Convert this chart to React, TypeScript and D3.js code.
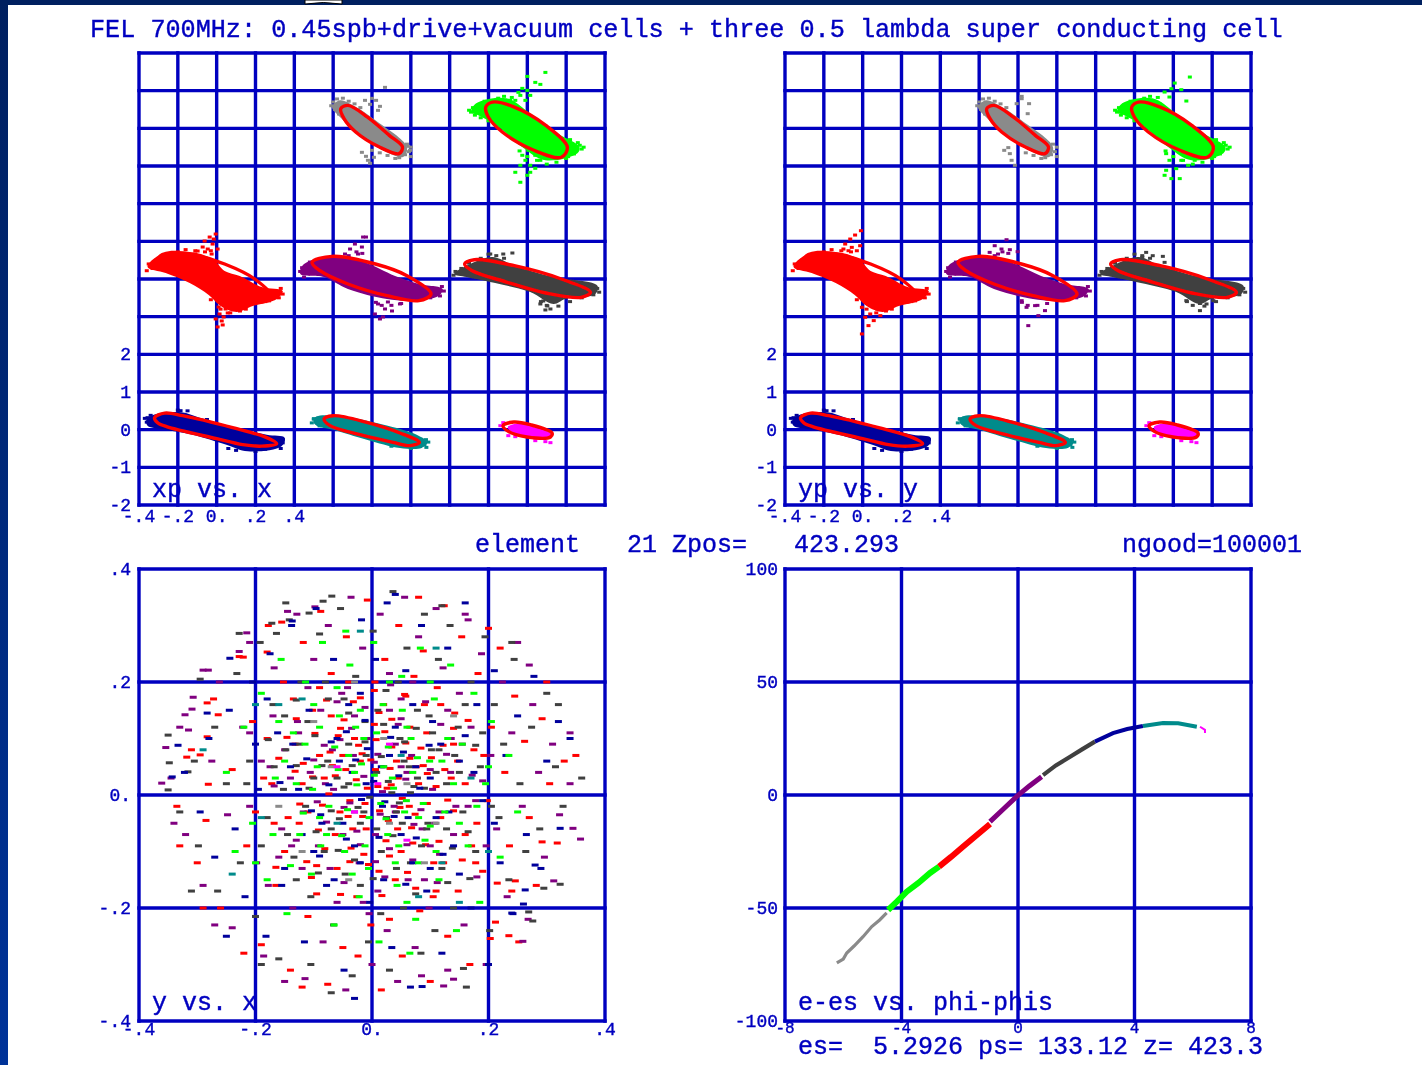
import * as d3 from 'd3'

// x/xp slices, local coordinates inside each sub-panel (x: +-.4, xp: +-2)
const navyCore = [[-.362,.265],[-.32,.4],[-.182,.46],[-.088,.318],[.082,.08],[.258,-.133],[.35,-.212],[.334,-.443],[.16,-.576],[.05,-.398],[-.124,-.133],[-.26,0],[-.356,.106]]
const navyRing = [[-.32,.318],[-.268,.438],[-.175,.371],[.082,.053],[.258,-.212],[.309,-.371],[.232,-.438],[.134,-.398],[0,-.239],[-.258,.08],[-.304,.186]]
const navyTail = [[-.186,.504],[-.356,.318],[.273,-.451],[.32,-.318],[.34,-.265],[-.36,.2],[-.37,.3],[-.34,.38],[-.3,.14],[-.2,.52],[-.15,.5],[.3,-.42],[.33,-.5],[.34,-.35],[.2,-.58],[.25,-.52],[.1,-.55],[.06,-.5],[-.05,.27]]

const tealCore = [[-.302,.22],[-.285,.353],[-.13,.337],[.024,.177],[.23,-.133],[.285,-.337],[.256,-.485],[.144,-.485],[-.027,-.265],[-.2,0],[-.285,.106]]
const tealRing = [[-.247,.284],[-.2,.371],[-.027,.194],[.144,-.088],[.244,-.337],[.196,-.424],[.108,-.337],[-.062,-.133],[-.216,.106]]
const tealTail = [[.278,-.265],[-.278,.239],[-.299,.292],[-.3,.28],[-.31,.18],[-.27,.1],[.27,-.4],[.28,-.47],[.29,-.33],[.2,-.5],[.1,-.44]]

const magentaCore = [[-.1,.08],[-.05,.16],[.03,.08],[.12,-.1],[.12,-.2],[0,-.18],[-.09,-.03]]
const magentaRing = [[-.125,.106],[-.07,.204],[.015,.133],[.127,-.088],[.119,-.194],[-.002,-.194],[-.098,-.045]]
const magentaTail = [[-.139,.106],[-.124,.186],[-.098,-.159],[-.062,-.186],[.093,-.318],[.119,-.345],[.041,-.292]]

const redCore = [[-.356,.318],[-.294,.637],[-.139,.716],[-.021,.53],[.041,.212],[.119,.08],[.232,-.212],[.34,-.318],[.31,-.53],[.186,-.716],[.103,-.875],[.02,-.716],[-.041,-.424],[-.139,-.106],[-.263,.159]]
const redRing = [[-.294,.584],[-.232,.703],[-.113,.637],[.041,.398],[.196,0],[.284,-.477],[.232,-.61],[.093,-.531],[-.062,-.212],[-.216,.265]]
const redTail = [[-.005,1.194],[-.036,1.114],[-.062,1.008],[-.021,.928],[-.072,.849],[-.046,.796],[-.098,.743],[-.015,1.061],[-.026,.663],[-.113,.663],[.005,.796],[.005,-1.273],[.026,-1.114],[.036,-1.008],[.015,-.928],[.057,-.902],[.077,-.796],[-.005,-1.061],[.046,-.796],[.031,-1.22],[.01,-.743],[-.36,.22],[-.35,.4],[-.33,.28],[-.31,.5],[.33,-.25],[.34,-.4],[.32,-.5],[.27,-.58],[.25,-.6],[.12,-.85],[.15,-.8],[.07,-.9],[.02,-.8],[-.03,-.55],[-.2,.72],[-.16,.78],[-.11,.75],[-.06,.72],[-.03,.75]]

const purpleCore = [[-.369,.133],[-.35,.398],[-.186,.584],[-.043,.451],[.119,.08],[.242,-.133],[.364,-.265],[.344,-.443],[.201,-.576],[.077,-.531],[-.124,-.265],[-.247,.053]]
const purpleRing = [[-.309,.443],[-.206,.602],[.018,.398],[.18,.088],[.304,-.398],[.242,-.576],[.077,-.443],[-.124,-.133],[-.268,.22]]
const purpleTail = [[-.046,1.114],[-.088,.928],[-.113,.796],[-.052,.849],[-.072,.663],[-.139,.663],[-.031,1.114],[.041,-1.061],[.067,-.796],[.031,-.663],[.103,-.849],[.144,-.663],[.015,-.928],[.082,-.61],[.057,-1.008],[-.37,.2],[-.36,.3],[-.35,.05],[-.32,.45],[-.12,.62],[-.08,.72],[-.05,.68],[.36,-.2],[.37,-.32],[.35,-.45],[.3,-.5],[.15,-.65],[.1,-.7],[.05,-.7],[.02,-.62]]

const darkCore = [[-.377,.133],[-.294,.398],[-.18,.584],[-.067,.353],[.134,.053],[.361,-.177],[.35,-.398],[.196,-.531],[.134,-.663],[.015,-.345],[-.191,-.08],[-.314,.053]]
const darkRing = [[-.323,.398],[-.273,.512],[-.067,.353],[.175,0],[.325,-.353],[.278,-.486],[.095,-.371],[-.108,-.08],[-.284,.22]]
const darkTail = [[-.124,.663],[-.077,.69],[-.191,.663],[.082,-.584],[.103,-.716],[.119,-.796],[.093,-.822],[.067,-.663],[-.38,.1],[-.37,.2],[-.34,.28],[-.3,.42],[-.24,.55],[-.2,.66],[-.16,.62],[-.12,.55],[.36,-.25],[.37,-.35],[.34,-.42],[.28,-.5],[.22,-.6],[.16,-.72],[.1,-.7],[.07,-.6]]

const grayCore = [[-.206,.565],[-.165,.743],[-.082,.565],[.018,.212],[.18,-.496],[.16,-.761],[.038,-.531],[-.084,-.08],[-.165,.3]]
const grayRing = [[-.161,.522],[-.124,.61],[-.023,.3],[.089,-.186],[.157,-.496],[.139,-.671],[.038,-.496],[-.084,-.098],[-.144,.257]]
const grayTail = [[.067,1.088],[0,.796],[.021,.743],[-.01,.637],[-.036,.743],[.041,.584],[.031,.477],[-.052,-.637],[-.031,-.743],[-.021,-.849],[0,-.584],[-.01,-.928],[.01,-.769],[.196,-.584],[.186,-.478],[-.21,.6],[-.2,.7],[-.18,.78],[-.15,.8],[-.12,.72],[-.09,.65],[-.06,.55],[-.19,.5],[-.17,.38],[.14,-.78],[.17,-.7],[.19,-.62],[.2,-.75],[.12,-.8],[.08,-.72],[.04,-.65],[.18,-.42],[.2,-.5]]

const greenCore = [[-.289,.432],[-.263,.663],[-.108,.796],[.013,.398],[.155,-.133],[.268,-.496],[.258,-.663],[.093,-.849],[-.027,-.496],[-.149,.034],[-.253,.345]]
const greenRing = [[-.214,.565],[-.18,.698],[-.067,.565],[.095,.08],[.206,-.496],[.175,-.769],[.034,-.583],[-.129,-.098],[-.201,.3]]
const greenTail = [[.093,1.485],[0,1.379],[.041,1.22],[.067,1.167],[0,1.008],[-.036,.875],[-.062,.743],[-.026,1.061],[.015,.875],[-.01,.743],[-.046,.955],[-.088,.743],[-.062,-1.167],[-.036,-1.432],[0,-1.247],[-.01,-.849],[.015,-.981],[.041,-1.061],[.067,-.849],[.015,-1.167],[-.026,-.716],[.093,-.796],[.005,-.584],[.041,-.716],[-.036,-.981],[-.29,.43],[-.28,.55],[-.27,.35],[-.25,.62],[-.24,.28],[-.22,.72],[-.3,.48],[-.26,.48],[-.2,.2],[-.15,.8],[-.12,.85],[-.08,.82],[.27,-.45],[.28,-.55],[.26,-.38],[.24,-.68],[.21,-.75],[.18,-.32],[.15,-.9],[.1,-.95],[.05,-.85],[.22,-.3],[.29,-.5],[.2,-.8],[-.04,-.6],[0,-.75]]

// y/yp tails are close to the x/xp ones but not the same
const grayTailY = [[.019,.849],[.057,.655],[.05,.389],[-.05,-.512],[-.042,-.672],[-.033,-.849],[-.016,-.981],[-.071,-.584],[.019,.787],[-.007,.655],[-.21,.6],[-.2,.7],[-.18,.78],[-.15,.8],[-.12,.72],[-.09,.65],[-.06,.55],[-.19,.5],[-.17,.38],[.14,-.78],[.17,-.7],[.19,-.62],[.2,-.75],[.12,-.8],[.08,-.72],[.04,-.65],[.18,-.42],[.2,-.5]]
const greenTailY = [[.085,1.362],[.007,1.202],[-.045,.963],[.041,1.026],[.067,.725],[-.02,.831],[-.072,.655],[-.01,1.052],[-.01,-1.335],[-.045,-1.247],[.033,-1.335],[-.037,-1.114],[.076,-.981],[.015,-1.07],[-.02,-.849],[.041,-.849],[-.037,-.672],[.11,-.849],[-.29,.43],[-.28,.55],[-.27,.35],[-.25,.62],[-.24,.28],[-.22,.72],[-.3,.48],[-.26,.48],[-.2,.2],[-.15,.8],[-.12,.85],[-.08,.82],[.27,-.45],[.28,-.55],[.26,-.38],[.24,-.68],[.21,-.75],[.18,-.32],[.15,-.9],[.1,-.95],[.05,-.85],[.22,-.3],[.29,-.5],[.2,-.8],[-.04,-.6],[0,-.75]]
const redTailY = [[-.009,1.282],[-.039,1.167],[-.064,1.061],[-.09,.928],[-.056,.84],[-.013,.884],[-.099,.796],[-.073,.751],[-.004,-1.459],[.03,-1.238],[.057,-1.105],[.013,-1.017],[.091,-.972],[.039,-.928],[-.004,-.752],[.074,-.796],[.108,-.752],[-.36,.22],[-.35,.4],[-.33,.28],[-.31,.5],[.33,-.25],[.34,-.4],[.32,-.5],[.27,-.58],[.25,-.6],[.12,-.85],[.15,-.8],[.07,-.9],[.02,-.8],[-.03,-.55],[-.2,.72],[-.16,.78],[-.11,.75],[-.06,.72],[-.03,.75]]
const purpleTailY = [[-.059,1.043],[-.12,.884],[-.085,.796],[-.146,.707],[-.042,.778],[-.002,.725],[-.103,.663],[.053,-1.238],[.105,-.972],[.044,-.752],[.139,-.84],[.019,-.575],[.088,-.707],[-.37,.2],[-.36,.3],[-.35,.05],[-.32,.45],[-.12,.62],[-.08,.72],[-.05,.68],[.36,-.2],[.37,-.32],[.35,-.45],[.3,-.5],[.15,-.65],[.1,-.7],[.05,-.7],[.02,-.62]]
const darkTailY = [[-.14,.707],[-.16,.575],[-.054,.601],[-.045,.442],[-.106,.619],[.137,-.84],[.171,-.663],[.067,-.575],[.206,-.575],[.137,-.65],[-.38,.1],[-.37,.2],[-.34,.28],[-.3,.42],[-.24,.55],[-.2,.66],[-.16,.62],[-.12,.55],[.36,-.25],[.37,-.35],[.34,-.42],[.28,-.5],[.22,-.6],[.16,-.72],[.1,-.7],[.07,-.6]]

// y vs x, read by eye from the cloud
const redCloud = [[-.31,.08],[-.335,-.02],[-.3,-.12],[-.272,.17],[-.26,-.2],[-.24,.045],[-.285,-.045],[-.228,.245],[-.215,-.09],[-.205,.13],[-.19,-.265],[-.178,.3],[-.172,.02],[-.165,-.16],[-.152,.2],[-.14,-.31],[-.132,.09],[-.125,-.05],[-.118,.27],[-.11,-.215],[-.102,.15],[-.095,-.125],[-.088,.325],[-.082,.03],[-.076,-.335],[-.07,.215],[-.063,-.07],[-.058,.105],[-.05,-.27],[-.044,.28],[-.038,-.01],[-.032,.165],[-.026,-.18],[-.02,.06],[-.014,-.105],[-.008,.345],[-.002,-.23],[.004,.125],[.01,.015],[.016,-.345],[.022,.24],[.028,-.045],[.034,.085],[.04,-.15],[.046,.3],[.052,-.285],[.058,.175],[.064,-.02],[.07,-.085],[.076,.05],[.082,-.205],[.088,.255],[.094,.11],[.1,-.33],[.106,-.12],[.112,.19],[.118,-.04],[.124,.335],[.13,-.25],[.136,.03],[.142,.145],[.148,-.17],[.154,.28],[.16,-.07],[.168,-.3],[.175,.08],[.182,.215],[.19,-.135],[.198,-.01],[.205,.12],[.212,-.225],[.22,.26],[.228,.04],[.236,-.09],[.245,.175],[.252,-.26],[.262,.095],[.27,-.04],[.282,-.16],[.292,.135],[.305,.02],[.318,-.085],[.33,.06],[-.12,.02],[-.09,.07],[-.06,-.13],[-.03,.1],[-.01,-.06],[.02,.16],[.05,-.1],[.08,.02],[.11,-.17],[-.15,-.1],[-.18,.1],[.14,.09],[-.045,.045],[.03,-.22],[-.07,.14],[.065,.12],[-.11,-.03],[.095,-.015],[-.2,-.03],[.18,-.05],[-.024,-.285],[.005,.2],[.045,.03],[-.055,-.03],[.125,.045],[-.135,.17],[.155,-.115],[-.16,.065],[-.095,-.175],[.012,-.135],[.072,.21],
  [-.155,.306],[-.283,.163],[-.264,.142],[-.283,.103],[-.295,.071],[-.318,.067],[-.221,.244],[-.18,.253],[-.281,.019],[.292,-.083],[.24,-.17],[.246,-.152],[.235,-.249],[.215,-.156],[.203,-.254],[-.33,-.09],[-.29,-.2],[-.22,-.28],[-.12,-.34],[.08,.35],[.2,.295],[.3,.2],[.35,.07],
  [-.008,.012],[.013,-.028],[-.027,.027],[.033,.018],[-.041,-.038],[.052,-.006],[-.063,.034],[.074,-.034],[-.085,-.018],[.095,.038],[-.017,.073],[.024,-.081],[-.036,-.094],[.042,.06],[-.072,.076],[.084,.083],[-.098,.109],[.115,-.082],[.007,.098],[-.006,-.123],[.061,-.137],[-.081,-.095],[.102,.066],[-.124,-.016],[.13,-.009],[-.118,.056],[.034,.134],[-.048,.133],[.147,.06],[-.144,-.04],[.16,.02],[-.168,-.05],[.09,.16],[-.104,-.146],[.123,-.12],[-.02,.172],[.017,-.178],[-.054,-.176],[.056,.178],[.171,-.09],[-.186,.03],[.192,.07],[-.13,.135],[.14,.118],[-.04,.2],[.105,-.18],[-.09,.19],[.075,-.165],[.026,.012],[-.012,-.015],[.006,.045],[-.05,.07],[.065,.065],[-.033,-.06],[.044,-.06],
  [-.002,.062],[.031,.047],[-.023,.088],[.058,.092],[-.068,.052],[.088,.052],[-.102,.032],[.11,.015],[-.054,.118],[.022,.112],[-.132,.042],[.14,-.028],[.012,.146],[-.074,.002],[.048,-.022],[-.016,-.038],[.068,-.058],[-.092,-.062],[.092,-.088],[-.038,-.118],[.03,-.108],[-.112,-.118],[.122,.088],[-.146,.102],[.165,.132],[-.078,.168],[.004,.185],[.118,.16],[-.165,-.128],[.178,-.12]]
const purpleCloud = [[-.345,.03],[-.32,-.07],[-.315,.115],[-.29,-.16],[-.275,.06],[-.262,.2],[-.248,-.035],[-.24,-.235],[-.222,.12],[-.21,.27],[-.198,-.12],[-.186,-.285],[-.175,.05],[-.168,.225],[-.155,-.06],[-.145,.325],[-.136,-.2],[-.128,.13],[-.115,-.325],[-.106,.04],[-.1,.24],[-.092,-.09],[-.084,-.26],[-.075,.3],[-.068,.08],[-.06,-.19],[-.052,.18],[-.045,-.345],[-.036,.35],[-.03,-.03],[-.022,-.12],[-.016,.26],[-.008,.1],[0,-.3],[.006,-.07],[.014,.32],[.02,.05],[.026,-.24],[.032,.195],[.038,-.02],[.044,-.33],[.05,.135],[.056,.35],[.062,-.15],[.068,.07],[.074,-.27],[.08,.28],[.086,-.06],[.092,.165],[.098,-.2],[.104,.01],[.11,.33],[.116,-.105],[.122,.225],[.13,-.31],[.136,.1],[.144,-.02],[.15,.18],[.158,-.23],[.165,.31],[.172,.035],[.18,-.145],[.188,.25],[.196,-.3],[.204,.07],[.214,-.06],[.224,.2],[.232,-.18],[.24,.11],[.25,.27],[.258,-.02],[.268,-.22],[.276,.16],[.286,.04],[.296,-.11],[.31,.09],[.322,-.035],[.34,.02],[-.13,-.08],[-.08,.02],[-.03,.14],[.01,-.17],[.06,.04],[.1,-.09],[.13,.15],[-.17,.14],[-.21,-.02],[.17,.12],[-.05,-.07],[.04,.09],[-.11,.19],[.085,-.32],[-.005,-.21],
  [-.354,.084],[-.281,.221],[-.29,.221],[-.228,.254],[-.215,.287],[-.129,.32],[-.098,.333],[-.307,.173],[-.309,.152],[-.321,.142],[-.33,.12],[-.361,.021],[.358,-.078],[.345,-.059],[.312,-.152],[.259,-.259],[.14,-.326],[.123,-.338],[-.34,-.05],[-.27,-.23],[-.15,-.33],[.16,.32],[.27,.23],[.34,.11],
  [.018,.006],[-.014,.033],[.04,-.03],[-.038,-.014],[.058,.028],[-.066,.01],[.072,-.052],[-.078,-.048],[.01,.072],[-.02,-.088],[.03,-.095],[-.055,.098],[.1,.045],[-.1,.062],[.115,-.03],[-.118,-.03],[.045,.125],[-.035,.118],[.07,-.115],[-.072,-.13],[.135,.04],[-.14,.03],[.14,-.07],[-.15,.08],[-.012,.155],[.022,-.145],[.155,.09],[-.16,-.11],[.09,-.15],[-.088,.15],[.178,-.01],[-.19,.06],[.05,.17],[-.06,.165],[.118,.125],[-.12,-.13],[.196,-.09],[-.178,-.16],[.03,.215],[-.015,-.19],
  [.004,.058],[-.032,.07],[.05,.05],[-.082,.088],[.084,-.026],[-.048,-.022],[.014,-.034],[-.094,-.012],[.108,-.05],[-.026,-.064],[.06,-.088],[-.126,.11],[.128,.072],[.03,.15],[-.168,.016],[.165,-.02],[-.042,.19],[.07,.2],[-.138,-.09],[.112,-.155],[-.048,-.155],[.006,-.118],[.19,.025],[-.21,.11]]
const darkCloud = [[-.33,-.03],[-.305,.06],[-.298,-.09],[-.27,.12],[-.265,-.17],[-.25,.02],[-.232,.215],[-.226,-.12],[-.21,.06],[-.2,-.215],[-.192,.27],[-.18,-.04],[-.17,.16],[-.16,-.29],[-.148,.08],[-.142,.31],[-.13,-.15],[-.122,.2],[-.114,-.02],[-.105,-.3],[-.098,.105],[-.09,.285],[-.082,-.1],[-.075,.17],[-.066,-.23],[-.06,.03],[-.054,.33],[-.046,-.14],[-.04,.09],[-.034,-.32],[-.028,.21],[-.02,-.05],[-.012,.13],[-.006,-.26],[.002,.29],[.008,.04],[.016,-.1],[.024,.185],[.03,-.31],[.036,.36],[.042,-.03],[.048,.1],[.054,-.2],[.06,.26],[.066,-.12],[.072,.015],[.078,.15],[.084,-.28],[.09,.32],[.096,-.05],[.102,.08],[.108,-.24],[.114,.24],[.12,-.13],[.128,.02],[.134,.3],[.14,-.2],[.148,.12],[.156,-.03],[.162,-.34],[.17,.2],[.178,-.1],[.186,.05],[.194,.28],[.202,-.24],[.21,.16],[.218,-.04],[.226,.09],[.235,-.15],[.244,.24],[.254,.02],[.264,-.1],[.274,.12],[.288,-.06],[.3,.18],[.315,.05],[.328,-.02],[-.1,.03],[-.07,-.06],[-.04,.02],[-.01,.07],[.025,-.04],[.055,.06],[.085,-.09],[-.125,.09],[.115,.08],[-.145,-.07],[.15,.04],[-.02,-.16],[.01,.15],
  [-.148,.34],[-.084,.343],[-.069,.352],[-.108,.322],[-.172,.304],[-.164,.286],[-.228,.286],[-.295,.205],[-.35,.106],[-.348,.057],[-.316,.041],[-.35,.009],[.323,-.158],[.295,-.165],[.269,-.207],[.276,-.223],[.157,-.307],[-.31,-.17],[-.19,-.3],[-.07,-.35],[.12,.335],[.24,.27],[.32,.16],[.36,.03],
  [-.004,-.004],[.028,.024],[-.024,-.022],[.047,-.014],[-.048,.014],[.066,.004],[-.07,-.028],[.078,.03],[-.086,.052],[.008,-.06],[-.012,.094],[.036,-.072],[-.058,-.098],[.056,.094],[.094,-.06],[-.096,-.065],[.104,.11],[-.11,.13],[.128,-.06],[-.134,-.11],[.142,.07],[-.152,.01],[.02,.125],[-.03,-.115],[.165,-.065],[-.168,.05],[.075,-.175],[-.08,.2],[.045,.2],[.19,.11],[-.19,-.09],[.13,-.155],[-.15,.14],[.205,-.02],[-.215,.02],[.015,-.21],[-.048,.17],[.098,.14],[-.105,-.18],[.16,.16],
  [.016,.068],[-.034,.052],[.064,.05],[-.076,.06],[.09,.012],[-.108,.012],[.034,.004],[-.056,-.042],[.052,-.05],[-.014,-.03],[.11,.04],[-.13,.052],[.076,.118],[-.04,.145],[.138,-.094],[-.092,-.138],[.002,-.148],[.042,-.13],[-.178,.098],[.178,.088],[.168,-.148],[-.13,.168]]
const navyCloud = [[-.322,.04],[-.295,-.03],[-.28,.1],[-.27,-.11],[-.245,.15],[-.235,-.06],[-.218,-.18],[-.205,.2],[-.195,.01],[-.182,-.25],[-.175,.25],[-.162,.11],[-.15,-.13],[-.138,.3],[-.126,.01],[-.116,-.26],[-.108,.15],[-.096,.33],[-.086,-.05],[-.078,-.16],[-.066,.24],[-.056,.06],[-.048,-.31],[-.04,.16],[-.03,-.09],[-.018,.31],[-.01,.02],[-.004,-.19],[.006,.24],[.018,-.02],[.026,.34],[.034,-.27],[.04,.12],[.05,-.07],[.058,.22],[.066,-.34],[.075,.05],[.085,.3],[.094,-.17],[.104,.13],[.11,-.04],[.12,-.28],[.13,.26],[.14,-.09],[.15,.06],[.16,.34],[.17,-.2],[.18,.16],[.19,-.01],[.2,-.3],[.21,.22],[.22,-.12],[.23,.07],[.242,-.21],[.25,.14],[.265,-.07],[.278,.21],[.29,-.13],[.3,.06],[.32,.13],[-.06,.1],[-.02,-.12],[.03,.07],[.07,-.12],[-.1,-.1],[.1,.03],[-.14,.05],
  [-.244,.242],[-.333,.088],[-.343,.032],[-.283,.145],[-.137,.308],[.086,-.339],[.323,-.059],[.28,-.124],[.263,-.168],[.26,-.193],[.24,-.209],[-.25,-.25],[-.03,-.36],[.04,.355],[.34,.1],
  [.003,.024],[-.018,-.008],[.022,-.012],[-.034,.04],[.046,.034],[-.05,-.05],[.062,-.04],[-.074,.018],[.082,.012],[-.088,-.035],[.012,-.075],[-.008,.082],[.032,.102],[-.044,.112],[.118,.09],[-.12,-.07],[.132,-.03],[-.136,.09],[.07,.16],[-.065,-.15],[.15,-.14],[-.155,-.16],[.175,.04],[-.18,.17],[.02,-.15],[-.02,.18],[.1,-.13],[.21,-.05],[-.2,.09],
  [.016,.05],[-.028,.062],[.054,.076],[-.07,.094],[.098,.088],[-.112,.064],[.076,-.076],[-.044,-.078],[-.104,-.028],[.122,-.105],[-.012,.132],[.038,-.038],[-.158,.022],[.16,.105],[-.09,-.108],[.058,-.158]]
const greenCloud = [[-.25,.04],[-.235,-.1],[-.22,.12],[-.205,-.05],[-.19,.18],[-.18,-.15],[-.166,.03],[-.156,.24],[-.146,-.21],[-.135,.11],[-.124,-.07],[-.114,.2],[-.104,-.14],[-.094,.05],[-.085,.27],[-.074,-.02],[-.065,-.23],[-.056,.14],[-.047,-.1],[-.038,.23],[-.03,.04],[-.022,-.18],[-.014,.1],[-.005,-.04],[.003,.27],[.012,-.26],[.019,.16],[.027,-.07],[.035,.03],[.043,-.16],[.051,.21],[.059,-.01],[.067,.1],[.075,-.22],[.083,.26],[.091,-.08],[.099,.06],[.107,.17],[.115,-.15],[.125,-.03],[.135,.23],[.145,-.24],[.155,.09],[.165,-.09],[.175,.18],[.185,-.19],[.195,.02],[.205,.13],[.22,-.11],[.235,.07],[.25,-.03],[-.09,-.04],[-.04,.07],[-.012,-.09],[.02,.05],[.06,.12],[.08,-.04],[-.13,.02],[.12,.06],[-.06,.19],[.04,-.12],[-.02,.15],
  [.015,-.015],[-.026,.018],[.037,.012],[-.042,-.026],[.056,-.03],[-.058,.045],[.07,.04],[-.078,-.07],[.088,-.015],[-.102,.01],[.008,.11],[-.006,-.13],[.046,-.09],[-.034,-.14],[.11,-.1],[-.115,.09],[.13,.1],[-.15,.06],[.15,-.05],[-.17,-.07],[.03,.2],[-.09,.12],[.1,.2],[-.2,-.12],[.18,-.02],[-.16,.13],[.2,.05],[.06,-.19],[-.045,.29],[.065,-.28],
  [.004,.035],[-.018,.055],[.028,.085],[-.064,.085],[.078,.066],[-.088,-.09],[.1,-.055],[-.052,-.072],[.024,-.042],[-.118,-.032],[.14,.02],[-.14,-.125],[.052,.15],[-.028,.12],[.08,-.12],[-.1,.16]]
const grayCloud = [[-.1,.13],[-.04,-.15],[.02,.1],[.09,-.12],[-.16,-.02],[.14,.14],[.03,-.05],[-.07,.05],[.06,.02],[.11,-.05],[-.03,.2],[-.12,-.1]]
const tealCloud = [[-.29,.08],[-.2,.16],[.11,.26],[.2,-.1],[-.02,.29],[.08,-.18],[-.24,-.14],[-.16,.16],[-.12,.17],[.15,-.19],[.12,-.12],[-.06,-.05],[.05,.07],[.17,.03],[-.19,-.04]]
const magentaCloud = [[.01,.02],[-.06,.05],[.06,-.08],[.03,.09],[-.03,-.03]]

// e-es vs phi-phis, one stretch per slice
const grayCurve = [[-6.22,-74.3],[-6.0,-72.6],[-5.88,-69.9],[-5.62,-66.7],[-5.32,-62.7],[-5.02,-58.2],[-4.75,-55.3],[-4.51,-52.2]]
const greenCurve = [[-4.46,-50.9],[-4.15,-47.1],[-3.82,-42.8],[-3.42,-38.9],[-3.02,-34.5],[-2.71,-31.7]]
const redCurve = [[-2.71,-31.7],[-2.3,-27.4],[-1.89,-22.9],[-1.4,-17.6],[-.96,-12.8]]
const purpleCurve = [[-.96,-11.8],[-.5,-6.2],[-.05,-.75],[.38,3.9],[.81,8.1]]
const darkCurve = [[.86,8.8],[1.3,13.1],[1.79,16.9],[2.2,20.2],[2.64,23.6]]
const navyCurve = [[2.64,23.6],[3.26,27.4],[3.75,29.2],[4.29,30.5]]
const tealCurve = [[4.29,30.5],[4.98,31.9],[5.5,31.7],[6.14,30.2]]
const magentaCurve = [[6.25,30.2],[6.42,28.8],[6.42,27.4]]

const BLUE = '#0000c0'
const RED = '#ff0000'
const NAVY = '#00009c'
const TEAL = '#008b8b'
const MAGENTA = '#ff00ff'
const PURPLE = '#800080'
const DARK = '#404040'
const GRAY = '#8a8a8a'
const GREEN = '#00ff00'

const slices = [
  { col: 0, row: 0, color: NAVY, core: navyCore, ring: navyRing, tail: navyTail, tailY: navyTail },
  { col: 1, row: 0, color: TEAL, core: tealCore, ring: tealRing, tail: tealTail, tailY: tealTail },
  { col: 2, row: 0, color: MAGENTA, core: magentaCore, ring: magentaRing, tail: magentaTail, tailY: magentaTail },
  { col: 0, row: 1, color: RED, core: redCore, ring: redRing, tail: redTail, tailY: redTailY },
  { col: 1, row: 1, color: PURPLE, core: purpleCore, ring: purpleRing, tail: purpleTail, tailY: purpleTailY },
  { col: 2, row: 1, color: DARK, core: darkCore, ring: darkRing, tail: darkTail, tailY: darkTailY },
  { col: 1, row: 2, color: GRAY, core: grayCore, ring: grayRing, tail: grayTail, tailY: grayTailY },
  { col: 2, row: 2, color: GREEN, core: greenCore, ring: greenRing, tail: greenTail, tailY: greenTailY },
]

const clouds = [
  { color: RED, pts: redCloud },
  { color: PURPLE, pts: purpleCloud },
  { color: DARK, pts: darkCloud },
  { color: NAVY, pts: navyCloud },
  { color: GREEN, pts: greenCloud },
  { color: GRAY, pts: grayCloud },
  { color: TEAL, pts: tealCloud },
  { color: MAGENTA, pts: magentaCloud },
]

const curves = [
  { color: GRAY, width: 3.2, pts: grayCurve },
  { color: GREEN, width: 6, pts: greenCurve },
  { color: RED, width: 6, pts: redCurve },
  { color: PURPLE, width: 5, pts: purpleCurve },
  { color: DARK, width: 4.2, pts: darkCurve },
  { color: NAVY, width: 4, pts: navyCurve },
  { color: TEAL, width: 4, pts: tealCurve },
  { color: MAGENTA, width: 2, pts: magentaCurve },
]

const phaseXTicks = ['-.4', '-.2', '0.', '.2', '.4']
const phaseYTicks = ['2', '1', '0', '-1', '-2']
const xyTicks = ['.4', '.2', '0.', '-.2', '-.4']
const eTicks = ['100', '50', '0', '-50', '-100']
const phiTicks = ['-8', '-4', '0', '4', '8']

const Txt = ({ x, y, size = 25, anchor = 'start', children }: any) => (
  <text x={x} y={y} fontSize={size} textAnchor={anchor} fill={BLUE} stroke={BLUE} strokeWidth={.4} fontFamily="'Liberation Mono', monospace" style={{ whiteSpace: 'pre' }}>
    {children}
  </text>
)

const Grid = ({ x, y, nx, ny }: any) => {
  const [x0, x1] = x.domain()
  const [y0, y1] = y.domain()
  return (
    <g stroke={BLUE} strokeWidth={3.4} fill="none" strokeLinecap="square">
      {d3.range(nx + 1).map((i) => {
        const v = x(x0 + ((x1 - x0) * i) / nx)
        return <line key={i} x1={v} x2={v} y1={y.range()[0]} y2={y.range()[1]} />
      })}
      {d3.range(ny + 1).map((i) => {
        const v = y(y0 + ((y1 - y0) * i) / ny)
        return <line key={i} x1={x.range()[0]} x2={x.range()[1]} y1={v} y2={v} />
      })}
    </g>
  )
}

const PhaseSpace = ({ left, label, tailKey }: any) => {
  const x = d3.scaleLinear().domain([-.4, 2]).range([left, left + 466])
  const y = d3.scaleLinear().domain([-2, 10]).range([505, 53])
  const shape = (s: any, pts: number[][], curve: any) =>
    d3.line()
      .x((d) => x(d[0] + s.col * .8))
      .y((d) => y(d[1] + s.row * 4))
      .curve(curve)(pts as any)
  return (
    <g>
      <Grid x={x} y={y} nx={12} ny={12} />
      {slices.map((s: any, i) => (
        <g key={i}>
          <path d={shape(s, s.core, d3.curveCatmullRomClosed)!} fill={s.color} />
          {s[tailKey].map((d: number[], j: number) => (
            <rect key={j} x={x(d[0] + s.col * .8) - 2} y={y(d[1] + s.row * 4) - 1.5} width={4} height={3} fill={s.color} />
          ))}
          <path d={shape(s, s.ring, d3.curveCatmullRomClosed)!} fill="none" stroke={RED} strokeWidth={3.4} />
        </g>
      ))}
      {phaseYTicks.map((t, i) => (
        <Txt key={t} x={left - 8} y={y(2 - i) + 6} size={18} anchor="end">{t}</Txt>
      ))}
      {phaseXTicks.map((t, i) => (
        <Txt key={t + i} x={x(-.4 + i * .2)} y={522} size={18} anchor="middle">{t}</Txt>
      ))}
      <Txt x={left + 13} y={497}>{label}</Txt>
    </g>
  )
}

const Cloud = () => {
  const x = d3.scaleLinear().domain([-.4, .4]).range([139, 605])
  const y = d3.scaleLinear().domain([-.4, .4]).range([1021, 569])
  return (
    <g>
      <Grid x={x} y={y} nx={4} ny={4} />
      {clouds.map((c) =>
        c.pts.map((d, i) => (
          <rect key={c.color + i} x={x(d[0]) - 3.5} y={y(d[1]) - 1.5} width={7} height={3} fill={c.color} />
        ))
      )}
      {xyTicks.map((t, i) => (
        <Txt key={t} x={131} y={y(.4 - i * .2) + 6} size={18} anchor="end">{t}</Txt>
      ))}
      {phaseXTicks.map((t, i) => (
        <Txt key={t} x={x(-.4 + i * .2)} y={1035} size={18} anchor="middle">{t}</Txt>
      ))}
      <Txt x={152} y={1010}>y vs. x</Txt>
    </g>
  )
}

const Energy = () => {
  const x = d3.scaleLinear().domain([-8, 8]).range([785, 1251])
  const y = d3.scaleLinear().domain([-100, 100]).range([1021, 569])
  const line = d3.line().x((d) => x(d[0])).y((d) => y(d[1]))
  return (
    <g>
      <Grid x={x} y={y} nx={4} ny={4} />
      {curves.map((c) => (
        <path key={c.color} d={line(c.pts as any)!} fill="none" stroke={c.color} strokeWidth={c.width} />
      ))}
      {eTicks.map((t, i) => (
        <Txt key={t} x={778} y={y(100 - i * 50) + 6} size={18} anchor="end">{t}</Txt>
      ))}
      {phiTicks.map((t, i) => (
        <Txt key={t} x={x(-8 + i * 4)} y={1033} size={16} anchor="middle">{t}</Txt>
      ))}
      <Txt x={798} y={1010}>e-es vs. phi-phis</Txt>
    </g>
  )
}

export default function App() {
  return (
    <svg width={1422} height={1065} style={{ position: 'fixed', left: 0, top: 0, background: '#fff' }}>
      <defs>
        <linearGradient id="frame" x1="0" y1="0" x2="0" y2="1">
          <stop offset="0" stopColor="#002060" />
          <stop offset="1" stopColor="#003399" />
        </linearGradient>
        <filter id="soft" x="0" y="0" width="100%" height="100%">
          <feGaussianBlur stdDeviation="0.45" />
        </filter>
      </defs>
      <rect x={0} y={0} width={8} height={1065} fill="url(#frame)" />
      <rect x={0} y={0} width={1422} height={5} fill="#002060" />
      <path d="M305 0 H342 V4 Q323 1 305 4 Z" fill="#fff" stroke="#000" strokeWidth={1} />
      <g filter="url(#soft)">
        <Txt x={90} y={37} size={25.17}>FEL 700MHz: 0.45spb+drive+vacuum cells + three 0.5 lambda super conducting cell</Txt>
        <PhaseSpace left={139} label="xp vs. x" tailKey="tail" />
        <PhaseSpace left={785} label="yp vs. y" tailKey="tailY" />
        <Txt x={475} y={552}>element</Txt>
        <Txt x={627} y={552}>21 Zpos=</Txt>
        <Txt x={794} y={552}>423.293</Txt>
        <Txt x={1122} y={552}>ngood=100001</Txt>
        <Cloud />
        <Energy />
        <Txt x={798} y={1054}>es=  5.2926 ps= 133.12 z= 423.3</Txt>
      </g>
    </svg>
  )
}
